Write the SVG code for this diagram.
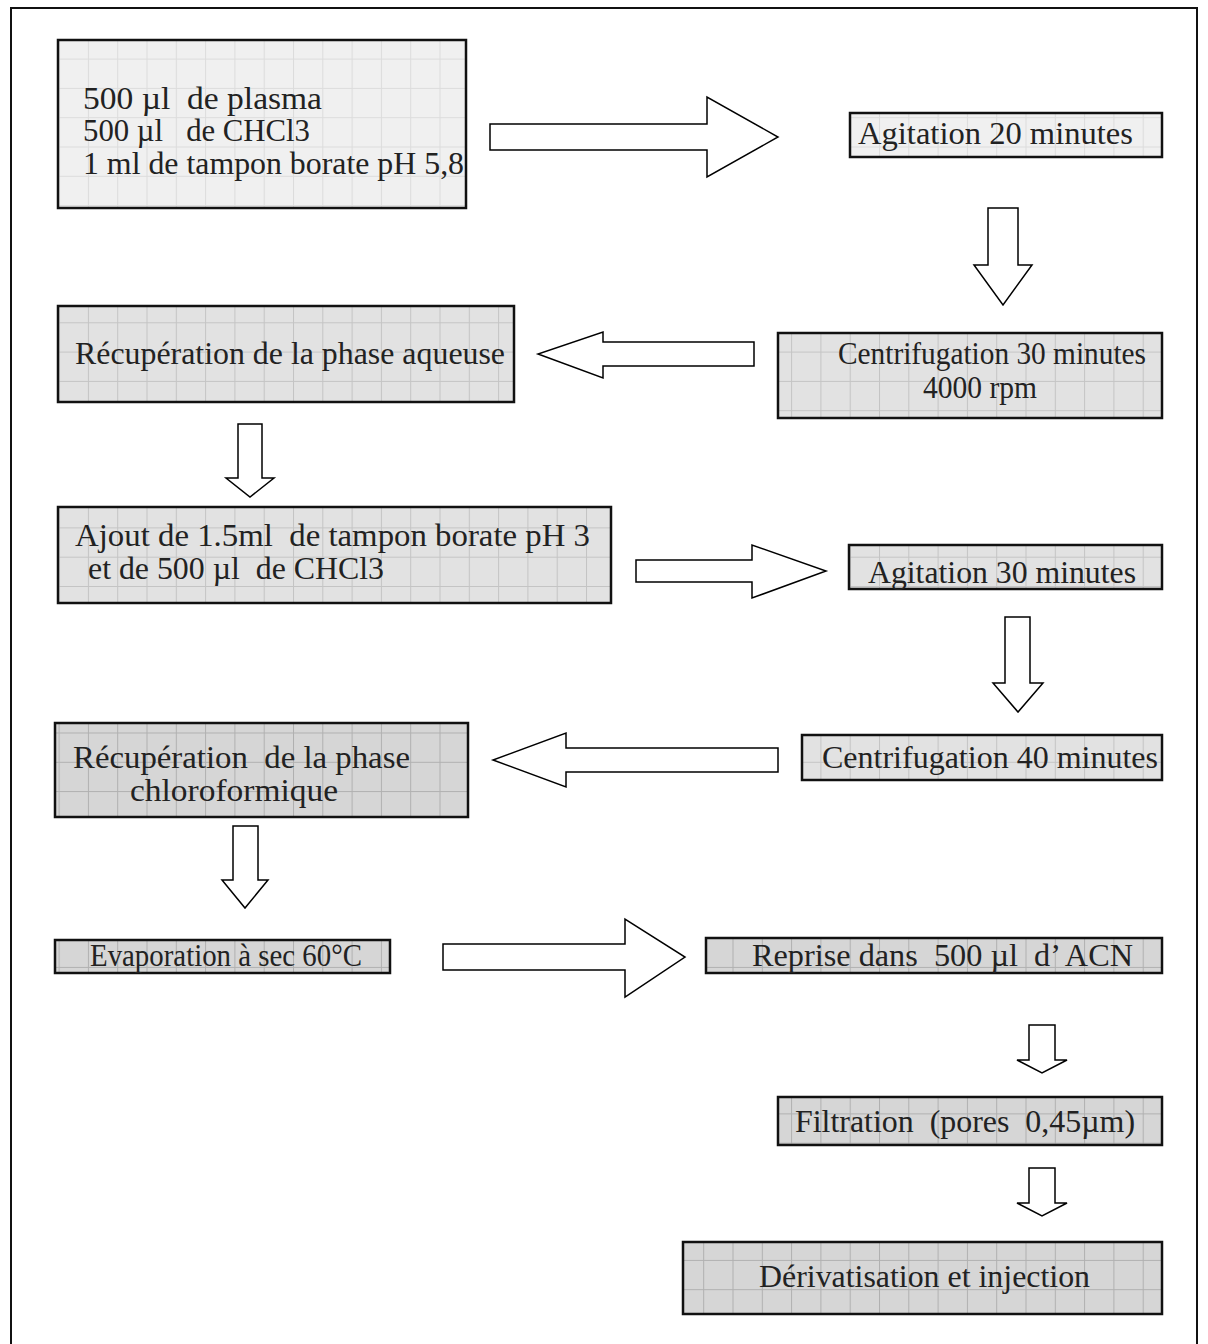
<svg xmlns="http://www.w3.org/2000/svg" width="1208" height="1344" viewBox="0 0 1208 1344">
<defs>
<pattern id="gridLight" patternUnits="userSpaceOnUse" width="29.3" height="29.3" x="0" y="0">
<rect width="29.3" height="29.3" fill="#f0f0f0"/>
<path d="M0 0.5H29.3M0.5 0V29.3" stroke="#dcdcdc" stroke-width="1" fill="none"/>
</pattern>
<pattern id="gridMid" patternUnits="userSpaceOnUse" width="29.3" height="29.3" x="0" y="0">
<rect width="29.3" height="29.3" fill="#e2e2e2"/>
<path d="M0 0.5H29.3M0.5 0V29.3" stroke="#c4c4c4" stroke-width="1" fill="none"/>
</pattern>
<pattern id="gridDark" patternUnits="userSpaceOnUse" width="29.3" height="29.3" x="0" y="0">
<rect width="29.3" height="29.3" fill="#d6d6d6"/>
<path d="M0 0.5H29.3M0.5 0V29.3" stroke="#b0b0b0" stroke-width="1" fill="none"/>
</pattern>
</defs>
<style>
.box{stroke:#111;stroke-width:2.5}
.l{fill:url(#gridLight)}
.m{fill:url(#gridMid)}
.d{fill:url(#gridDark)}
text{font-family:"Liberation Serif","Times New Roman",serif;font-size:32px;fill:#222;white-space:pre}
.arrow{fill:#fff;stroke:#000;stroke-width:1.5;stroke-linejoin:miter}
</style>
<rect width="1208" height="1344" fill="#fff"/>
<path d="M11 1350V8H1197V1350" fill="none" stroke="#111" stroke-width="2"/>

<g id="n1">
<rect class="box l" x="58" y="40" width="408" height="168"/>
<text x="83" y="109" textLength="239" lengthAdjust="spacingAndGlyphs">500 µl  de plasma</text>
<text x="83" y="141" textLength="227" lengthAdjust="spacingAndGlyphs">500 µl   de CHCl3</text>
<text x="83" y="174" textLength="381" lengthAdjust="spacingAndGlyphs">1 ml de tampon borate pH 5,8</text>
</g>
<g id="n2">
<rect class="box l" x="850" y="113" width="312" height="44"/>
<text x="858" y="144" textLength="275" lengthAdjust="spacingAndGlyphs">Agitation 20 minutes</text>
</g>
<g id="n3">
<rect class="box m" x="778" y="333" width="384" height="85"/>
<text x="838" y="364" textLength="308" lengthAdjust="spacingAndGlyphs">Centrifugation 30 minutes</text>
<text x="923" y="398" textLength="114" lengthAdjust="spacingAndGlyphs">4000 rpm</text>
</g>
<g id="n4">
<rect class="box m" x="58" y="306" width="456" height="96"/>
<text x="75" y="364" textLength="430" lengthAdjust="spacingAndGlyphs">Récupération de la phase aqueuse</text>
</g>
<g id="n5">
<rect class="box m" x="58" y="507" width="553" height="96"/>
<text x="75" y="546" textLength="515" lengthAdjust="spacingAndGlyphs">Ajout de 1.5ml  de tampon borate pH 3</text>
<text x="88" y="579" textLength="296" lengthAdjust="spacingAndGlyphs">et de 500 µl  de CHCl3</text>
</g>
<g id="n6">
<rect class="box m" x="849" y="545" width="313" height="44"/>
<text x="868" y="583" textLength="268" lengthAdjust="spacingAndGlyphs">Agitation 30 minutes</text>
</g>
<g id="n7">
<rect class="box m" x="802" y="735" width="360" height="45"/>
<text x="822" y="768" textLength="336" lengthAdjust="spacingAndGlyphs">Centrifugation 40 minutes</text>
</g>
<g id="n8">
<rect class="box d" x="55" y="723" width="413" height="94"/>
<text x="73" y="768" textLength="337" lengthAdjust="spacingAndGlyphs">Récupération  de la phase</text>
<text x="130" y="801" textLength="208" lengthAdjust="spacingAndGlyphs">chloroformique</text>
</g>
<g id="n9">
<rect class="box d" x="55" y="940" width="335" height="33"/>
<text x="90" y="966" textLength="272" lengthAdjust="spacingAndGlyphs">Evaporation à sec 60°C</text>
</g>
<g id="n10">
<rect class="box d" x="706" y="938" width="456" height="35"/>
<text x="752" y="966" textLength="381" lengthAdjust="spacingAndGlyphs">Reprise dans  500 µl  d’ ACN</text>
</g>
<g id="n11">
<rect class="box d" x="778" y="1097" width="384" height="48"/>
<text x="795" y="1132" textLength="340" lengthAdjust="spacingAndGlyphs">Filtration  (pores  0,45µm)</text>
</g>
<g id="n12">
<rect class="box d" x="683" y="1242" width="479" height="72"/>
<text x="759" y="1287" textLength="331" lengthAdjust="spacingAndGlyphs">Dérivatisation et injection</text>
</g>

<g id="connectors">
<polygon class="arrow" points="490,124 707,124 707,97 778,137 707,177 707,150 490,150"/>
<polygon class="arrow" points="988,208 1018,208 1018,265 1032,265 1003,305 974,265 988,265"/>
<polygon class="arrow" points="754,342 603,342 603,332 538,354 603,378 603,366 754,366"/>
<polygon class="arrow" points="238,424 262,424 262,478 274,478 250,497 226,478 238,478"/>
<polygon class="arrow" points="636,560 752,560 752,545 826,571 752,598 752,582 636,582"/>
<polygon class="arrow" points="1005,617 1030,617 1030,683 1043,683 1018,712 993,683 1005,683"/>
<polygon class="arrow" points="778,748 566,748 566,733 493,760 566,787 566,772 778,772"/>
<polygon class="arrow" points="233,826 258,826 258,880 268,880 245,908 222,880 233,880"/>
<polygon class="arrow" points="443,944 625,944 625,919 685,957 625,997 625,970 443,970"/>
<polygon class="arrow" points="1029,1025 1055,1025 1055,1060 1067,1060 1042,1073 1017,1060 1029,1060"/>
<polygon class="arrow" points="1029,1168 1055,1168 1055,1203 1067,1203 1042,1216 1017,1203 1029,1203"/>
</g>
</svg>
